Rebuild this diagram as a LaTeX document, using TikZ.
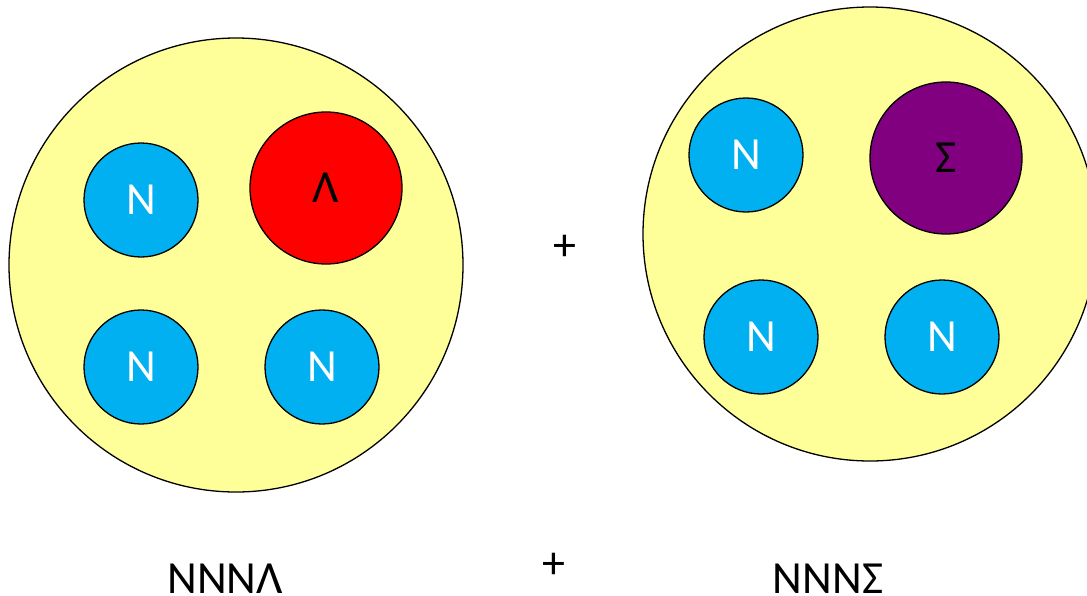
\documentclass[tikz,border=0pt]{standalone}
\usepackage{fontspec}
\setmainfont{Carlito}
\definecolor{nucyellow}{HTML}{FFFF99}
\definecolor{nucblue}{HTML}{00B0F0}
\definecolor{lamred}{HTML}{FF0000}
\definecolor{sigpurple}{HTML}{800080}
\tikzset{
  bigball/.style={circle, draw=black, line width=1.3pt, fill=nucyellow, minimum size=#1, inner sep=0pt},
  nucleon/.style={circle, draw=black, line width=1.3pt, fill=nucblue, minimum size=114pt, inner sep=0pt, text=white, font=\fontsize{46}{46}\selectfont},
  hyperon/.style={circle, draw=black, line width=1.3pt, fill=#1, minimum size=152pt, inner sep=0pt, text=black, font=\fontsize{46}{46}\selectfont},
  label/.style={font=\fontsize{46}{46}\selectfont, inner sep=0pt},
}
\begin{document}
\begin{tikzpicture}[x=1pt,y=-1pt]
\useasboundingbox (0,0) rectangle (1087,595);
\clip (0,0) rectangle (1087,595);
% left cluster
\node[bigball=454pt] (L) at (236,265) {};
\node[nucleon] (L1) at (141,200) {N};
\node[hyperon=lamred] (LL) at (326,188) {Λ};
\node[nucleon] (L2) at (141,367) {N};
\node[nucleon] (L3) at (322,367) {N};
% right cluster
\node[bigball=454pt] (R) at (870,234) {};
\node[nucleon] (R1) at (746,155) {N};
\node[hyperon=sigpurple] (RS) at (946,158) {Σ};
\node[nucleon] (R2) at (761,337) {N};
\node[nucleon] (R3) at (942,337) {N};
% plus signs
\node[label] (p1) at (565,248) {+};
\node[label] (p2) at (554,566) {+};
% bottom labels
\node[label, anchor=base] (t1) at (225,593) {NNNΛ};
\node[label, anchor=base] (t2) at (828,593) {NNNΣ};
\end{tikzpicture}
\end{document}
